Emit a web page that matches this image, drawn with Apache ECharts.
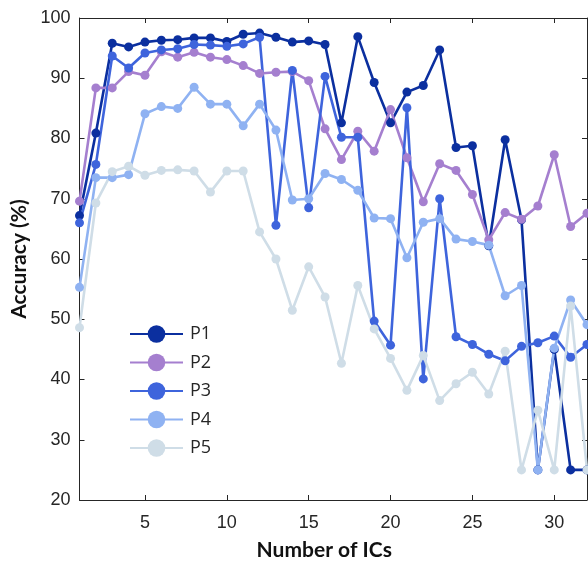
<!DOCTYPE html>
<html>
<head>
<meta charset="utf-8">
<script src="https://cdn.jsdelivr.net/npm/echarts@6/dist/echarts.min.js"></script>
<style>
  html, body { margin: 0; padding: 0; background: #ffffff; }
  #chart { width: 588px; height: 563px; }
</style>
</head>
<body>
<div id="chart"></div>
<script>
// Number of independent components tested
const components = [1, 2, 3, 4, 5, 6, 7, 8, 9, 10, 11, 12, 13, 14, 15, 16,
                    17, 18, 19, 20, 21, 22, 23, 24, 25, 26, 27, 28, 29, 30, 31, 32];

// Accuracy (%) per participant
const p1 = [67.2, 80.9, 95.8, 95.2, 96.0, 96.3, 96.4, 96.7, 96.7, 96.1, 97.3, 97.5, 96.8, 96.0, 96.2, 95.6,
            82.6, 96.9, 89.3, 82.6, 87.7, 88.8, 94.7, 78.5, 78.8, 62.2, 79.8, 66.5, 25.0, 45.0, 25.0, 25.0];
const p2 = [69.6, 88.4, 88.4, 91.1, 90.5, 94.4, 93.5, 94.3, 93.5, 93.1, 92.1, 90.8, 91.0, 91.1, 89.6, 81.6,
            76.5, 81.2, 77.9, 84.8, 76.8, 69.5, 75.8, 74.7, 70.7, 63.2, 67.7, 66.6, 68.8, 77.3, 65.4, 67.6];
const p3 = [66.0, 75.7, 93.7, 91.7, 94.2, 94.7, 94.9, 95.6, 95.5, 95.3, 95.7, 96.8, 65.6, 91.3, 68.5, 90.3,
            80.2, 80.2, 49.7, 45.7, 85.1, 40.1, 70.0, 47.1, 45.8, 44.2, 43.1, 45.5, 46.1, 47.2, 43.7, 45.8];
const p4 = [55.3, 73.5, 73.5, 74.0, 84.1, 85.3, 85.0, 88.5, 85.7, 85.7, 82.1, 85.7, 81.4, 69.8, 70.0, 74.2,
            73.2, 71.4, 66.8, 66.7, 60.2, 66.1, 66.7, 63.3, 62.9, 62.3, 53.9, 55.6, 25.0, 45.2, 53.2, 49.1];
const p5 = [48.6, 69.3, 74.5, 75.4, 73.9, 74.7, 74.8, 74.6, 71.1, 74.6, 74.6, 64.5, 60.0, 51.5, 58.7, 53.7,
            42.7, 55.6, 48.4, 43.5, 38.2, 44.0, 36.5, 39.3, 41.2, 37.6, 44.7, 25.0, 34.9, 25.0, 52.2, 25.0];

const seriesNames = ['P1', 'P2', 'P3', 'P4', 'P5'];
const seriesValues = [p1, p2, p3, p4, p5];
const seriesColors = ['#0b2f9f', '#a57fcf', '#3e64dc', '#8fb2f2', '#cfdde7'];

const xTicks = [5, 10, 15, 20, 25, 30];

const axisColor = '#262626';
const tickFont = { fontFamily: 'Liberation Sans', fontSize: 18, color: axisColor };

const chart = echarts.init(document.getElementById('chart'), null, { renderer: 'canvas' });

const xAxisBase = {
  type: 'value',
  min: 1,
  max: 32,
  splitLine: { show: false },
  axisLine: { show: true, onZero: false, lineStyle: { color: axisColor, width: 1 } },
  axisTick: { show: true, inside: true, length: 5, customValues: xTicks, lineStyle: { color: axisColor } }
};

const yAxisBase = {
  type: 'value',
  min: 20,
  max: 100,
  interval: 10,
  splitLine: { show: false },
  axisLine: { show: true, lineStyle: { color: axisColor, width: 1 } },
  axisTick: { show: true, inside: true, length: 5, lineStyle: { color: axisColor } }
};

chart.setOption({
  animation: false,
  backgroundColor: '#ffffff',
  grid: { left: 79.5, right: 1, top: 18, bottom: 63, containLabel: false, outerBoundsMode: 'none' },
  legend: {
    orient: 'vertical',
    left: 124,
    top: 320,
    itemWidth: 53,
    itemHeight: 22,
    itemGap: 10.5,
    textStyle: { fontFamily: 'Open Sans', fontSize: 18, color: axisColor, padding: [0, 0, 0, 2] },
    data: seriesNames
  },
  xAxis: [
    Object.assign({}, xAxisBase, {
      position: 'bottom',
      name: 'Number of ICs',
      nameLocation: 'middle',
      nameGap: 40,
      nameTextStyle: { fontFamily: 'Lato', fontWeight: 'bold', fontSize: 21, color: '#111111', padding: [0, 18, 0, 0] },
      axisLabel: Object.assign({ show: true, margin: 14, customValues: xTicks }, tickFont)
    }),
    Object.assign({}, xAxisBase, {
      position: 'top',
      axisLabel: { show: false }
    })
  ],
  yAxis: [
    Object.assign({}, yAxisBase, {
      position: 'left',
      name: 'Accuracy (%)',
      nameLocation: 'middle',
      nameGap: 48,
      nameTextStyle: { fontFamily: 'Lato', fontWeight: 'bold', fontSize: 21, color: '#111111' },
      axisLabel: Object.assign({ show: true, margin: 9 }, tickFont)
    }),
    Object.assign({}, yAxisBase, {
      position: 'right',
      axisLabel: { show: false }
    })
  ],
  series: seriesNames.map(function (name, i) {
    return {
      name: name,
      type: 'line',
      xAxisIndex: 0,
      yAxisIndex: 0,
      data: components.map(function (c, j) { return [c, seriesValues[i][j]]; }),
      symbol: 'circle',
      symbolSize: 9,
      showSymbol: true,
      clip: false,
      lineStyle: { color: seriesColors[i], width: 2.6 },
      itemStyle: { color: seriesColors[i] },
      emphasis: { disabled: true }
    };
  })
});
</script>
</body>
</html>
